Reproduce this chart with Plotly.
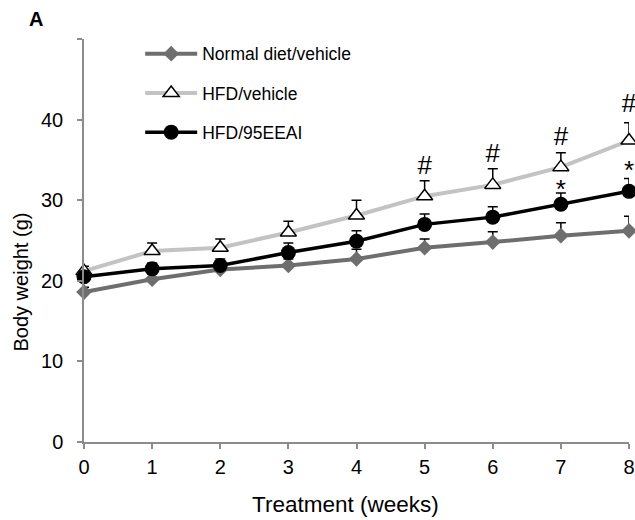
import plotly.graph_objects as go

weeks = [0, 1, 2, 3, 4, 5, 6, 7, 8]
normal = [18.6, 20.2, 21.4, 21.9, 22.7, 24.1, 24.8, 25.6, 26.2]
normal_err = [0.6, 0.6, 0.7, 0.8, 1.2, 1.1, 1.3, 1.6, 1.8]
hfd_vehicle = [21.2, 23.7, 24.1, 26.0, 28.1, 30.5, 31.9, 34.1, 37.4]
hfd_vehicle_err = [0.6, 1.0, 1.1, 1.4, 1.9, 1.9, 2.0, 1.8, 2.2]
hfd_95 = [20.5, 21.5, 21.9, 23.5, 24.9, 27.0, 27.9, 29.5, 31.1]
hfd_95_err = [0.7, 0.7, 0.8, 1.2, 1.3, 1.3, 1.3, 1.4, 1.6]

hash_x = [5, 6, 7, 8]
hash_y = [34.0, 35.6, 37.7, 41.7]
star_x = [7, 8]
star_y = [31.1, 33.4]

names = ["Normal diet/vehicle", "HFD/vehicle", "HFD/95EEAI"]
y_ticks = [0, 10, 20, 30, 40, 50]
y_tick_text = ["0", "10", "20", "30", "40", ""]

FONT = "Liberation Sans, Arial, sans-serif"

L, R, T, B = 84.3, 5.5, 39.2, 78.3
PW = 635 - L - R
PH = 520 - T - B


def px_x(px):
    return (px - L) / PW


def px_y(py):
    return (520 - B - py) / PH


def err(vals):
    return dict(type="data", symmetric=False, array=vals, arrayminus=[0] * len(vals),
                color="black", thickness=1.5, width=5)


fig = go.Figure()
fig.add_trace(go.Scatter(
    x=weeks, y=normal, name=names[0], mode="lines+markers",
    line=dict(color="#6e6e6e", width=4),
    marker=dict(symbol="diamond", size=12, color="#6e6e6e"),
    error_y=err(normal_err), cliponaxis=False, legendgroup="a"))
fig.add_trace(go.Scatter(
    x=weeks, y=hfd_vehicle, name=names[1], mode="lines+markers",
    line=dict(color="#c3c3c3", width=4),
    marker=dict(symbol="triangle-up", size=14, color="white",
                line=dict(color="black", width=1.5)),
    error_y=err(hfd_vehicle_err), cliponaxis=False, legendgroup="b"))
fig.add_trace(go.Scatter(
    x=weeks, y=hfd_95, name=names[2], mode="lines+markers",
    line=dict(color="black", width=3.5),
    marker=dict(symbol="circle", size=15, color="black"),
    error_y=err(hfd_95_err), cliponaxis=False, legendgroup="c"))
fig.add_trace(go.Scatter(
    x=hash_x, y=hash_y, mode="text", text=["#"] * len(hash_x),
    textfont=dict(family=FONT, size=26, color="black"),
    showlegend=False, cliponaxis=False, hoverinfo="skip"))
fig.add_trace(go.Scatter(
    x=star_x, y=star_y, mode="text", text=["*"] * len(star_x),
    textfont=dict(family=FONT, size=26, color="black"),
    showlegend=False, cliponaxis=False, hoverinfo="skip"))

fig.update_layout(
    width=635, height=520,
    margin=dict(l=L, r=R, t=T, b=B, autoexpand=False),
    paper_bgcolor="white", plot_bgcolor="white",
    font=dict(family=FONT, size=17, color="black"),
    showlegend=True,
    legend=dict(x=px_x(140.5), y=px_y(36), xanchor="left", yanchor="top",
                bgcolor="rgba(0,0,0,0)", itemwidth=52,
                traceorder="grouped", tracegroupgap=13.5,
                font=dict(family=FONT, size=17.5, color="black")),
    xaxis=dict(range=[0, 8], tickvals=weeks, ticks="outside", ticklen=5,
               tickcolor="#8c8c8c", tickwidth=1.5, showline=True,
               linecolor="#8c8c8c", linewidth=1.5, showgrid=False,
               zeroline=False, tickfont=dict(size=20), automargin=False,
               ticklabelstandoff=1),
    yaxis=dict(range=[0, 50], tickvals=y_ticks, ticktext=y_tick_text,
               ticks="outside", ticklen=5, tickcolor="#8c8c8c", tickwidth=1.5,
               showline=True, linecolor="#8c8c8c", linewidth=1.5,
               showgrid=False, zeroline=False, tickfont=dict(size=20),
               automargin=False, ticklabelstandoff=10),
    annotations=[
        dict(text="Treatment (weeks)", xref="paper", yref="paper",
             x=px_x(346), y=px_y(504),
             xanchor="center", yanchor="middle", showarrow=False,
             font=dict(family=FONT, size=22.5)),
        dict(text="Body weight (g)", xref="paper", yref="paper",
             x=px_x(21), y=px_y(281.7), textangle=-90,
             xanchor="center", yanchor="middle", showarrow=False,
             font=dict(family=FONT, size=20)),
        dict(text="<b>A</b>", xref="paper", yref="paper",
             x=px_x(36.5), y=px_y(19.5),
             xanchor="center", yanchor="middle", showarrow=False,
             font=dict(family=FONT, size=20)),
    ],
)

fig.write_html("out.html", config={"displayModeBar": False},
               post_script="document.body.style.margin='0px';")
